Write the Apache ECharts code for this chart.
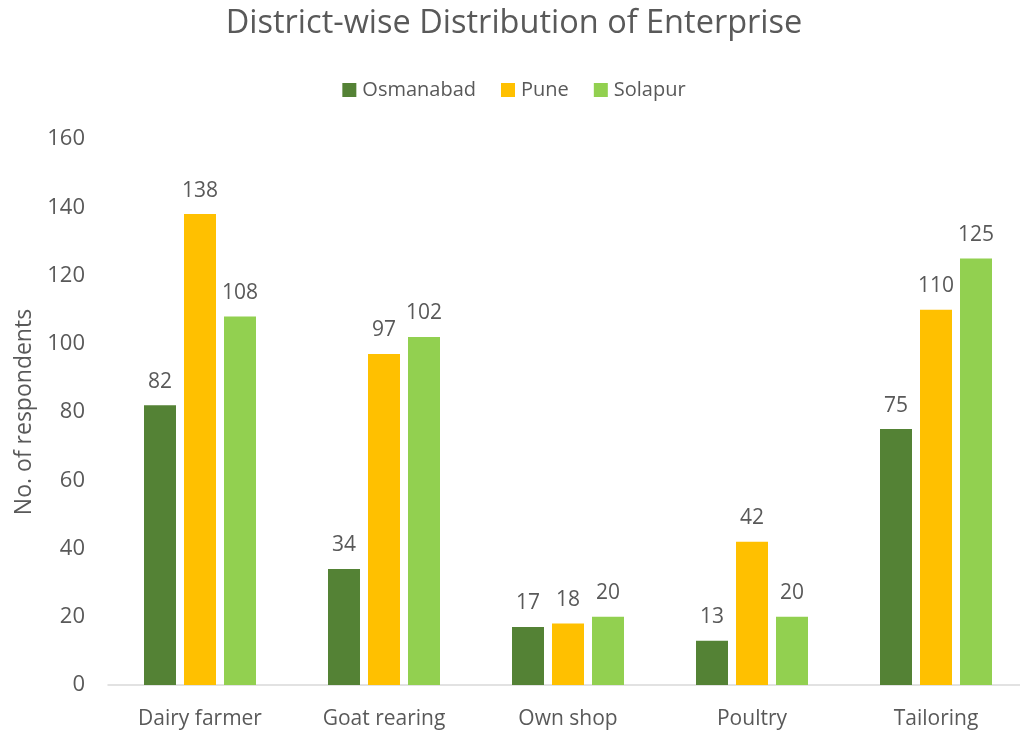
<!DOCTYPE html>
<html>
<head>
<meta charset="utf-8">
<script src="https://cdn.jsdelivr.net/npm/echarts@6/dist/echarts.min.js"></script>
<style>
  html, body { margin: 0; padding: 0; background: #fff; overflow: hidden; }
  #chart { width: 1028px; height: 730px; }
</style>
</head>
<body>
<div id="chart"></div>
<script>
// Enterprise types and respondent counts per district
const categories = ['Dairy farmer', 'Goat rearing', 'Own shop', 'Poultry', 'Tailoring'];
const osmanabad = [82, 34, 17, 13, 75];
const pune = [138, 97, 18, 42, 110];
const solapur = [108, 102, 20, 20, 125];
const yTicks = { min: 0, max: 160, interval: 20 };

const FONT = '"Open Sans", "Noto Sans", sans-serif';
const TEXT = '#595959';

const chart = echarts.init(document.getElementById('chart'), null, { renderer: 'canvas' });

function barSeries(name, data, color) {
  return {
    name: name,
    type: 'bar',
    data: data,
    barWidth: 32,
    barGap: '25%',
    itemStyle: { color: color },
    label: {
      show: true,
      position: 'top',
      distance: 13,
      color: TEXT,
      fontFamily: FONT,
      fontSize: 21
    }
  };
}

chart.setOption({
  backgroundColor: '#ffffff',
  animation: false,
  title: {
    text: 'District-wise Distribution of Enterprise',
    left: 'center',
    top: 2,
    textStyle: { color: TEXT, fontFamily: FONT, fontSize: 32.5, fontWeight: 'normal' }
  },
  legend: {
    top: 75,
    left: 'center',
    itemWidth: 14,
    itemHeight: 14,
    itemGap: 25,
    icon: 'rect',
    textStyle: { color: TEXT, fontFamily: FONT, fontSize: 20, padding: [0, 0, 0, 1] }
  },
  grid: { left: 108, top: 139, width: 920, height: 547, containLabel: false },
  xAxis: {
    type: 'category',
    data: categories,
    axisLine: { lineStyle: { color: '#d9d9d9', width: 1.5 } },
    axisTick: { show: false },
    axisLabel: { color: TEXT, fontFamily: FONT, fontSize: 21, margin: 24 }
  },
  yAxis: {
    type: 'value',
    min: yTicks.min,
    max: yTicks.max,
    interval: yTicks.interval,
    name: 'No. of respondents',
    nameLocation: 'middle',
    nameGap: 65,
    nameTextStyle: { color: TEXT, fontFamily: FONT, fontSize: 23 },
    splitLine: { show: false },
    axisLine: { show: false },
    axisTick: { show: false },
    axisLabel: { color: TEXT, fontFamily: FONT, fontSize: 22, margin: 23 }
  },
  series: [
    barSeries('Osmanabad', osmanabad, '#548235'),
    barSeries('Pune', pune, '#ffc000'),
    barSeries('Solapur', solapur, '#92d050')
  ]
});
</script>
</body>
</html>
